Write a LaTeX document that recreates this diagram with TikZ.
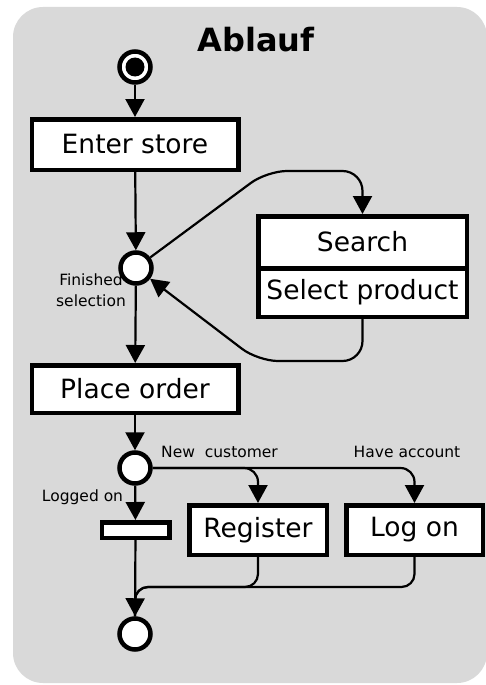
\documentclass[tikz,border=0pt]{standalone}
\usepackage{fontspec}
\setmainfont{DejaVu Sans}
\usetikzlibrary{arrows.meta}
\definecolor{bg}{RGB}{217,217,217}
\begin{document}
\begin{tikzpicture}[x=1pt,y=-1pt,
  box/.style={draw=black,fill=white,line width=4.5pt,inner sep=0pt,font=\fontsize{26.5}{30}\selectfont},
  st/.style={circle,draw=black,fill=white,line width=4.5pt,minimum size=31pt,inner sep=0pt},
  conn/.style={line width=2.2pt},
  arr/.style={conn,-{Triangle[length=18pt,width=19pt]}},
  lbl/.style={font=\fontsize{15.5}{21}\selectfont,inner sep=0pt},
]
\useasboundingbox (0,0) rectangle (486,685);
\fill[bg,rounded corners=30pt] (13,7) rectangle (487,683);

\node[font=\bfseries\fontsize{32}{36}\selectfont,anchor=base,inner sep=0pt] (title) at (256,52) {Ablauf};

\node[st,path picture={\fill[black] (path picture bounding box.center) circle (9.5pt);}] (start) at (135,67) {};
\node[box,minimum width=206.5pt,minimum height=50.5pt] (enter) at (135,144.5) {Enter store};
\node[st] (m1) at (136,268) {};
\node[box,minimum width=208.5pt,minimum height=51.5pt] (search) at (362.5,242) {Search};
\node[box,minimum width=208.5pt,minimum height=48.5pt] (select) at (362.5,292.5) {Select product};
\node[box,minimum width=206.5pt,minimum height=47.5pt] (place) at (135,389) {Place order};
\node[st] (d) at (135,468) {};
\node[box,minimum width=67.5pt,minimum height=15.5pt] (bar) at (135.5,530) {};
\node[box,minimum width=137.5pt,minimum height=49.5pt] (register) at (258,530) {Register};
\node[box,minimum width=136.5pt,minimum height=49.5pt] (logon) at (414.5,530) {Log on};
\node[st] (final) at (135,634) {};

\node[lbl,align=center,anchor=base] (lfin) at (91,306) {Finished\\selection};
\node[lbl,anchor=base] (llog) at (82.5,501) {Logged on};
\node[lbl,anchor=base west] (lnew) at (161,457) {New\ \ customer};
\node[lbl,anchor=base] (lhave) at (407,457) {Have account};

\draw[arr] (start) -- (enter);
\draw[arr] (enter) -- (m1);
\draw[arr] (m1) -- (place);
\draw[arr,rounded corners=20pt] (m1) -- (267,171) -- (362.5,171) -- (search.north);
\draw[arr,rounded corners=20pt] (select.south) -- (362.5,361) -- (258,361) -- (m1);
\draw[arr] (place) -- (d);
\draw[arr] (d) -- (bar);
\draw[arr,rounded corners=14pt] (d) -- (258,468) -- (register.north);
\draw[arr,rounded corners=14pt] (d) -- (414.5,468) -- (logon.north);
\draw[conn,rounded corners=13pt] (register.south) -- (258,587) -- (135,587) -- (final);
\draw[conn,rounded corners=13pt] (logon.south) -- (414.5,587) -- (135,587) -- (final);
\draw[arr] (bar) -- (final);
\end{tikzpicture}
\end{document}
